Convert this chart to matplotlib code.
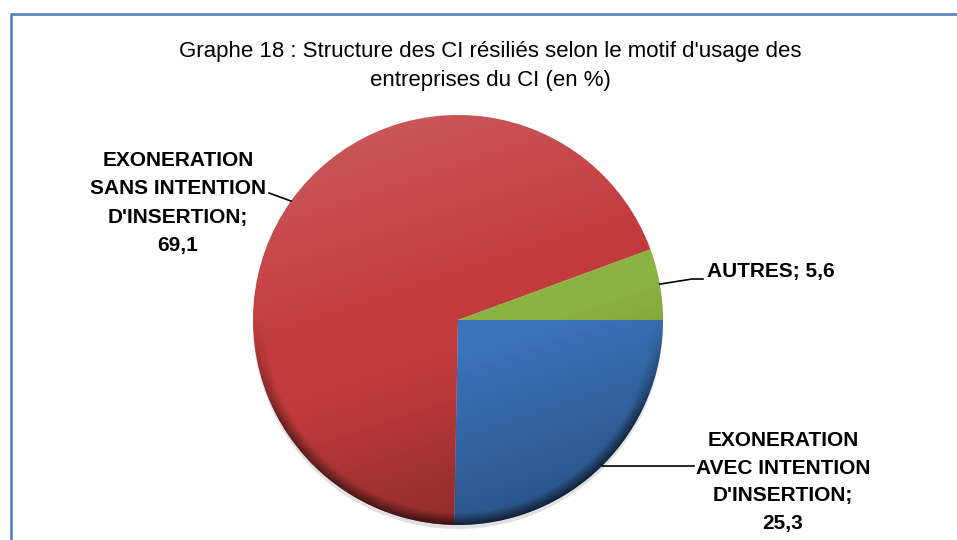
import numpy as np
import matplotlib.pyplot as plt
from matplotlib.patches import Circle

# Données du graphe
categories = ["EXONERATION\nAVEC INTENTION\nD'INSERTION", "EXONERATION\nSANS INTENTION\nD'INSERTION", "AUTRES"]
values = [25.3, 69.1, 5.6]
colors = ['#3B74BC', '#C23B3C', '#8BB340']
title = "Graphe 18 : Structure des CI résiliés selon le motif d'usage des\nentreprises du CI (en %)"

plt.rcParams['font.family'] = ['Liberation Sans', 'DejaVu Sans']

W, H = 957, 540
fig = plt.figure(figsize=(W / 100, H / 100), dpi=100)
ax = fig.add_axes([0, 0, 1, 1])

cx, cy, r = 458, 220, 205

# ombre légère sous le camembert
ax.add_patch(Circle((cx, cy - 4), r, color='#999999', alpha=0.3, lw=0, zorder=1))

wedges, _ = ax.pie(values, colors=colors, startangle=0, counterclock=False,
                   center=(cx, cy), radius=r, frame=True,
                   wedgeprops=dict(linewidth=0, zorder=2))
ax.set_xlim(0, W)
ax.set_ylim(0, H)
ax.axis('off')

# dégradé : clair en haut à gauche, sombre en bas, bord sombre en bas
n = 400
yy, xx = np.mgrid[0:n, 0:n] / (n - 1)
lin = yy * 0.75 + (1 - xx) * 0.25
light = np.clip(lin - 0.55, 0, None) / 0.45
dark = np.clip(0.45 - lin, 0, None) / 0.45
rr = np.hypot(xx - 0.5, yy - 0.5) * 2
rim = np.clip((rr - 0.94) / 0.06, 0, 1) * np.clip((0.5 - yy) * 4, 0, 1)

white = np.ones((n, n, 4))
white[..., 3] = light * 0.18
black = np.zeros((n, n, 4))
black[..., 3] = np.clip(dark * 0.35 + rim * 0.45, 0, 1)
for img in (white, black):
    im = ax.imshow(img, extent=(cx - r, cx + r, cy - r, cy + r), origin='lower',
                   zorder=3, interpolation='bilinear')
    im.set_clip_path(Circle((cx, cy), r, transform=ax.transData))

# étiquettes et lignes de rappel
label_pos = [(783, 58), (178, 337), (707, 269)]
aligns = ['center', 'center', 'left']
for i, (w, cat, v, (tx, ty), ha) in enumerate(zip(wedges, categories, values, label_pos, aligns)):
    ang = np.deg2rad((w.theta1 + w.theta2) / 2)
    px, py = cx + r * np.cos(ang), cy + r * np.sin(ang)
    txt = f"{cat}; {str(v).replace('.', ',')}"
    if ha == 'center':
        txt = txt.replace('; ', ';\n')
    if i == 0:
        xs, ys = [px, 694], [py, py]
    elif i == 1:
        xs, ys = [px, 269], [py, 347]
    else:
        xs, ys = [px, 692, 703], [py, 261, 261]
    ax.plot(xs, ys, color='black', lw=1.2, zorder=4)
    ax.text(tx, ty, txt, ha=ha, va='center', fontsize=15, fontweight='bold',
            linespacing=1.6, zorder=5)

ax.text(490, 474, title, ha='center', va='center', fontsize=16, linespacing=1.5)

# cadre
ax.plot([10.5, 10.5, W], [0, H - 13.5, H - 13.5], color='#5B87C5', lw=2, clip_on=False)

fig.savefig('out.png', dpi=100)
